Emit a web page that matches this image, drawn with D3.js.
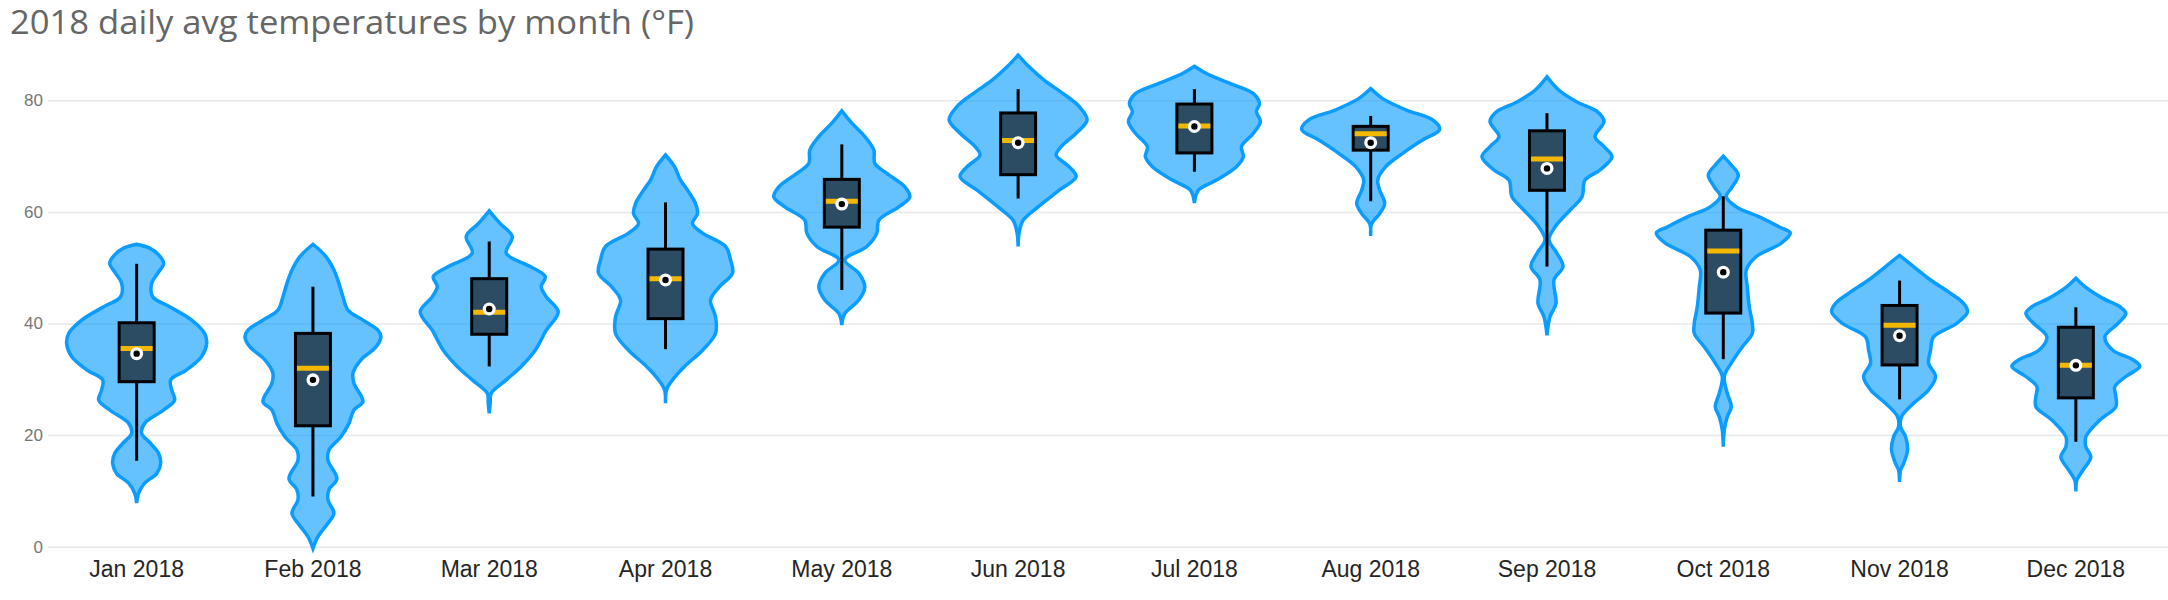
<!DOCTYPE html>
<html>
<head>
<meta charset="utf-8">
<script src="https://cdn.jsdelivr.net/npm/d3@7"></script>
<style>
  body { margin: 0; background: #fff; }
  svg { display: block; font-family: "Segoe UI", "Open Sans", sans-serif; }
  .grid line { stroke: #e8e8e8; stroke-width: 1.5; }
  .grid text { fill: #777; font-size: 17px; }
  .xaxis text { fill: #252525; font-size: 23px; }
  .violin { fill: #0099ff; fill-opacity: 0.6; stroke: #0a9cff; stroke-width: 3.5; }
</style>
</head>
<body>
<svg width="2168" height="600"></svg>
<script>
const months = ["Jan 2018", "Feb 2018", "Mar 2018", "Apr 2018", "May 2018", "Jun 2018",
  "Jul 2018", "Aug 2018", "Sep 2018", "Oct 2018", "Nov 2018", "Dec 2018"];
const yTicks = [0, 20, 40, 60, 80];

// box stats (°F)
const whiskerLow = [15.4, 9.0, 32.3, 35.4, 46.0, 62.4, 67.2, 61.9, 50.2, 33.6, 26.4, 18.8];
const q1 = [29.3, 21.4, 37.8, 40.6, 57.0, 66.4, 70.3, 70.8, 63.6, 41.6, 32.3, 26.4];
const median = [35.5, 32.0, 42.0, 48.0, 61.9, 72.8, 75.4, 74.0, 69.5, 53.0, 39.7, 32.5];
const q3 = [40.4, 38.5, 48.3, 53.6, 66.1, 78.0, 79.6, 75.6, 74.8, 57.0, 43.5, 39.6];
const whiskerHigh = [50.7, 46.6, 54.7, 61.7, 72.1, 82.0, 82.0, 77.2, 77.7, 62.8, 47.7, 42.9];
const mean = [34.6, 29.9, 42.6, 47.8, 61.4, 72.4, 75.3, 72.4, 67.8, 49.2, 37.8, 32.5];

// density profiles: [temperature, density]
const janDensity = [[54.2,0],[53.5,0.013],[52.3,0.022],[50.8,0.027],[49.0,0.021],[47.2,0.015],[44.8,0.016],[43.0,0.033],[40.6,0.055],[38.2,0.068],[36.4,0.070],[34.1,0.065],[31.7,0.050],[29.9,0.034],[28.1,0.035],[26.3,0.038],[24.5,0.027],[22.1,0.008],[20.3,0.005],[18.5,0.014],[16.7,0.022],[14.9,0.024],[13.1,0.020],[11.4,0.008],[9.6,0.002],[7.8,0]];
const febDensity = [[54.2,0],[52.0,0.013],[49.6,0.021],[47.2,0.026],[44.8,0.030],[42.4,0.035],[40.6,0.050],[38.8,0.065],[37.6,0.068],[35.8,0.063],[33.5,0.048],[31.1,0.040],[29.3,0.041],[26.0,0.050],[24.5,0.041],[22.1,0.036],[19.7,0.028],[17.3,0.016],[15.5,0.015],[12.2,0.024],[10.2,0.016],[8.4,0.015],[6.0,0.021],[4.2,0.015],[1.8,0.005],[-0.3,0]];
const marDensity = [[60.2,0],[57.9,0.011],[55.6,0.023],[52.6,0.017],[50.2,0.041],[48.4,0.056],[46.6,0.052],[44.8,0.057],[42.1,0.069],[38.8,0.057],[35.2,0.046],[32.3,0.032],[29.9,0.017],[27.5,0.002],[25.7,0.001],[23.9,0]];
const aprDensity = [[70.2,0],[68.1,0.009],[65.7,0.015],[63.9,0.022],[61.5,0.030],[59.7,0.032],[57.9,0.027],[56.2,0.037],[53.8,0.060],[51.4,0.065],[49.0,0.067],[46.6,0.054],[44.2,0.045],[41.2,0.050],[38.2,0.050],[35.2,0.037],[32.3,0.019],[29.9,0.007],[28.1,0.001],[25.7,0]];
const mayDensity = [[78.1,0],[75.9,0.010],[73.5,0.023],[71.1,0.032],[68.7,0.033],[66.9,0.045],[64.5,0.063],[62.7,0.068],[60.9,0.057],[58.5,0.037],[56.2,0.035],[53.8,0.025],[51.4,0.003],[49.0,0.017],[46.6,0.023],[44.2,0.017],[41.8,0.003],[39.7,0]];
const junDensity = [[88.1,0],[86.0,0.011],[83.6,0.026],[81.2,0.045],[78.9,0.061],[76.5,0.069],[74.1,0.058],[71.7,0.043],[70.2,0.038],[68.1,0.051],[66.3,0.058],[63.9,0.041],[60.9,0.020],[58.5,0.005],[56.2,0.001],[53.8,0]];
const julDensity = [[86.1,0],[84.8,0.012],[83.0,0.036],[81.2,0.059],[79.4,0.065],[78.0,0.062],[76.2,0.066],[74.1,0.059],[71.7,0.047],[69.9,0.049],[68.1,0.042],[65.7,0.022],[63.9,0.004],[61.6,0]];
const augDensity = [[82.1,0],[80.3,0.012],[78.3,0.035],[76.5,0.062],[74.8,0.069],[72.9,0.052],[70.5,0.032],[68.1,0.015],[65.7,0.007],[63.9,0.009],[61.5,0.014],[59.7,0.009],[57.9,0.001],[55.7,0]];
const sepDensity = [[84.2,0],[81.8,0.012],[79.7,0.030],[78.0,0.050],[76.2,0.057],[73.5,0.048],[71.7,0.057],[69.9,0.065],[67.5,0.053],[65.7,0.038],[62.7,0.035],[60.3,0.023],[57.3,0.008],[55.0,0.002],[52.6,0.010],[50.2,0.016],[47.8,0.007],[43.6,0.009],[41.2,0.003],[37.9,0]];
const octDensity = [[70.0,0],[68.4,0.008],[66.6,0.015],[64.5,0.009],[62.7,0.003],[60.9,0.013],[59.1,0.036],[57.3,0.056],[56.2,0.067],[54.4,0.058],[52.0,0.033],[49.6,0.023],[46.6,0.024],[43.0,0.026],[40.0,0.029],[38.2,0.029],[35.8,0.019],[32.9,0.008],[30.5,0.001],[27.5,0.004],[25.1,0.008],[23.3,0.004],[20.9,0.001],[17.9,0]];
const novDensity = [[52.2,0],[50.2,0.014],[47.8,0.031],[45.4,0.051],[43.6,0.064],[42.1,0.068],[40.0,0.057],[37.6,0.034],[35.2,0.031],[32.9,0.029],[30.5,0.036],[28.1,0.029],[25.7,0.014],[23.3,0.002],[21.5,0.001],[19.7,0.006],[17.3,0.008],[14.9,0.004],[13.7,0.001],[11.6,0]];
const decDensity = [[48.1,0],[46.6,0.009],[44.5,0.027],[43.0,0.044],[41.8,0.050],[40.0,0.042],[37.6,0.029],[35.2,0.037],[33.5,0.057],[32.3,0.064],[30.5,0.050],[28.7,0.039],[26.9,0.040],[25.1,0.040],[22.7,0.024],[19.7,0.010],[17.9,0.010],[16.1,0.015],[13.7,0.007],[11.9,0.001],[9.9,0]];
const densities = [janDensity, febDensity, marDensity, aprDensity, mayDensity, junDensity,
  julDensity, augDensity, sepDensity, octDensity, novDensity, decDensity];

const svg = d3.select("svg");
const W = 2168;

const x = d3.scaleBand().domain(months).range([48.5, 2164]).padding(0);
const y = d3.scaleLinear().domain([0, 80]).range([546.7, 100.3]);
const w = d3.scaleLinear().domain([0, 0.07]).range([0, 70]);
const cx = (i) => x(months[i]) + x.bandwidth() / 2;

// title
svg.append("text")
  .attr("x", 10)
  .attr("y", 34)
  .attr("fill", "#666")
  .attr("font-size", 32.5)
  .attr("textLength", 684)
  .attr("lengthAdjust", "spacingAndGlyphs")
  .text("2018 daily avg temperatures by month (°F)");

// gridlines + y labels
const gy = svg.append("g")
  .attr("class", "grid")
  .attr("transform", "translate(48,0)")
  .call(d3.axisLeft(y).tickValues(yTicks).tickSize(-(W - 48)).tickPadding(5));
gy.select(".domain").remove();

// x labels
const gx = svg.append("g")
  .attr("class", "xaxis")
  .attr("transform", "translate(0,555)")
  .call(d3.axisBottom(x).tickSize(0).tickPadding(0));
gx.select(".domain").remove();
gx.selectAll("text").attr("dy", "0.71em").attr("y", 6);

const groups = svg.selectAll("g.month").data(months).enter().append("g").attr("class", "month");

// violins
const area = d3.area()
  .y((d) => y(d[0]))
  .curve(d3.curveCatmullRom);

groups.append("path")
  .attr("class", "violin")
  .attr("d", (d, i) => area
    .x0((p) => cx(i) - w(p[1]))
    .x1((p) => cx(i) + w(p[1]))(densities[i]));

// whiskers
groups.append("line")
  .attr("x1", (d, i) => cx(i))
  .attr("x2", (d, i) => cx(i))
  .attr("y1", (d, i) => y(whiskerLow[i]))
  .attr("y2", (d, i) => y(whiskerHigh[i]))
  .attr("stroke", "#000")
  .attr("stroke-width", 3);

// boxes
groups.append("rect")
  .attr("x", (d, i) => cx(i) - 17.5)
  .attr("width", 35)
  .attr("y", (d, i) => y(q3[i]) + 1.5)
  .attr("height", (d, i) => y(q1[i]) - y(q3[i]) - 3)
  .attr("fill", "#2b4c63")
  .attr("stroke", "#000")
  .attr("stroke-width", 3);

// median
groups.append("line")
  .attr("x1", (d, i) => cx(i) - 16)
  .attr("x2", (d, i) => cx(i) + 16)
  .attr("y1", (d, i) => y(median[i]))
  .attr("y2", (d, i) => y(median[i]))
  .attr("stroke", "#f5b800")
  .attr("stroke-width", 5);

// mean
groups.append("circle")
  .attr("cx", (d, i) => cx(i))
  .attr("cy", (d, i) => y(mean[i]))
  .attr("r", 6.5)
  .attr("fill", "#fff");

groups.append("circle")
  .attr("cx", (d, i) => cx(i))
  .attr("cy", (d, i) => y(mean[i]))
  .attr("r", 3.2)
  .attr("fill", "#000");
</script>
</body>
</html>
